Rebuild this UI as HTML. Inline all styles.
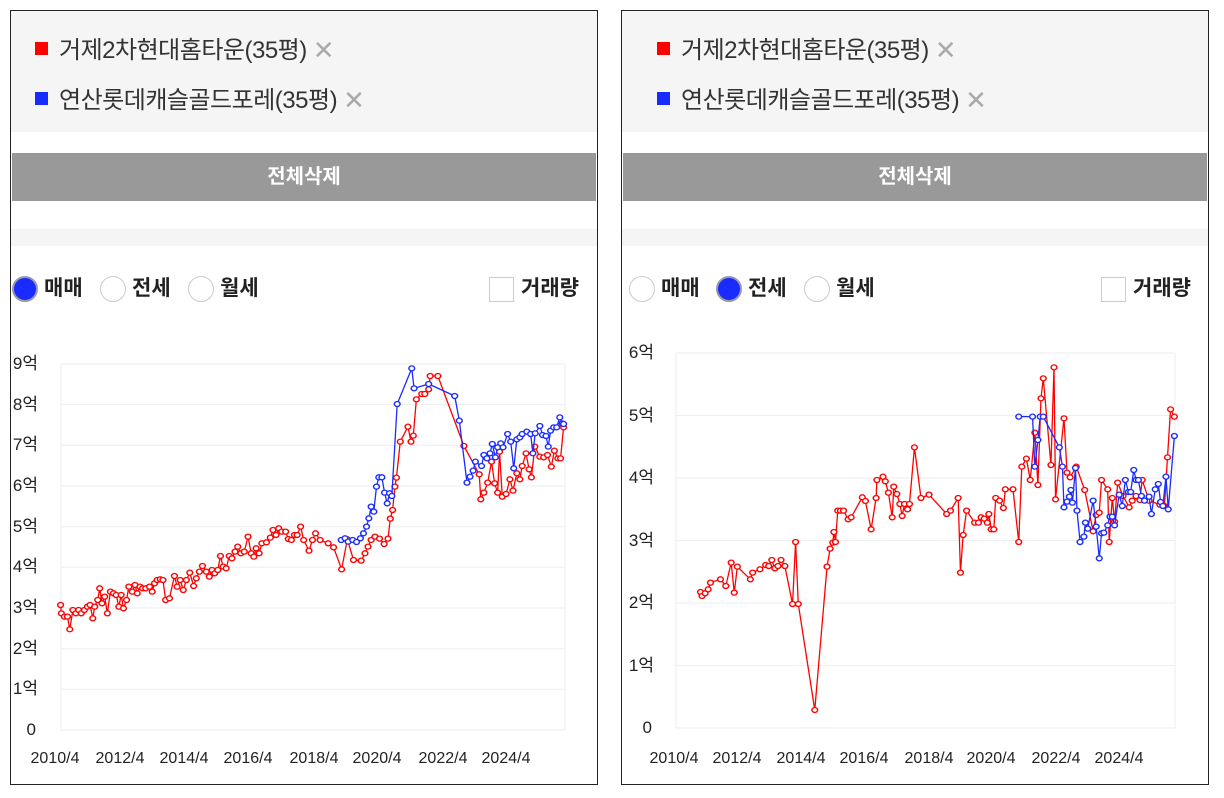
<!DOCTYPE html>
<html><head><meta charset="utf-8"><style>
body{margin:0;width:1224px;height:798px;background:#fff;position:relative;overflow:hidden;font-family:"Liberation Sans","Noto Sans CJK KR",sans-serif;}
.p{position:absolute;top:10px;width:588px;height:775px;border:1.5px solid #222;box-sizing:border-box;overflow:hidden}
.a{position:absolute}
.lg{position:absolute;font-size:24px;color:#333;white-space:nowrap;line-height:26px;letter-spacing:-0.5px}
.sq{display:inline-block;width:13px;height:13px;margin-right:11px;vertical-align:3px}
.x{color:#aaa;font-size:26px;margin-left:6px;vertical-align:-1px}
.btn{position:absolute;left:1px;right:1px;top:142px;height:48px;background:#999;color:#fff;font-weight:bold;font-size:20px;text-align:center;line-height:48px}
.rad{position:absolute;top:265px;width:26px;height:26px;border-radius:50%;border:1.5px solid #ccc;box-sizing:border-box;background:#fff}
.on{border:2px solid #99a;background:#1a2bff}
.t{position:absolute;top:264px;font-size:21px;font-weight:bold;color:#222;line-height:28px}
.cb{position:absolute;top:266px;width:25px;height:25px;border:1.5px solid #ccc;box-sizing:border-box}
</style></head><body>

<div class="p" style="left:10px">
 <div class="a" style="left:0;right:0;top:0;height:121px;background:#f5f5f5"></div>
 <div class="lg" style="left:24px;top:26px"><span class="sq" style="background:#f00"></span>거제2차현대홈타운(35평)<span class="x">✕</span></div>
 <div class="lg" style="left:24px;top:76px"><span class="sq" style="background:#1a2bff"></span>연산롯데캐슬골드포레(35평)<span class="x">✕</span></div>
 <div class="btn">전체삭제</div>
 <div class="a" style="left:0;right:0;top:218px;height:17px;background:#f5f5f5"></div>
 <div class="rad on" style="left:1px"></div><div class="t" style="left:33px">매매</div>
 <div class="rad" style="left:89px"></div><div class="t" style="left:121px">전세</div>
 <div class="rad" style="left:177px"></div><div class="t" style="left:209px">월세</div>
 <div class="cb" style="left:478px"></div><div class="t" style="left:510px">거래량</div>
</div>

<div class="p" style="left:621px">
 <div class="a" style="left:0;right:0;top:0;height:121px;background:#f5f5f5"></div>
 <div class="lg" style="left:35px;top:26px"><span class="sq" style="background:#f00"></span>거제2차현대홈타운(35평)<span class="x">✕</span></div>
 <div class="lg" style="left:35px;top:76px"><span class="sq" style="background:#1a2bff"></span>연산롯데캐슬골드포레(35평)<span class="x">✕</span></div>
 <div class="btn">전체삭제</div>
 <div class="a" style="left:0;right:0;top:218px;height:17px;background:#f5f5f5"></div>
 <div class="rad" style="left:7px"></div><div class="t" style="left:39px">매매</div>
 <div class="rad on" style="left:94px"></div><div class="t" style="left:126px">전세</div>
 <div class="rad" style="left:182px"></div><div class="t" style="left:214px">월세</div>
 <div class="cb" style="left:479px"></div><div class="t" style="left:511px">거래량</div>
</div>

<svg class="a" style="left:0;top:0" width="1224" height="798" font-family="Liberation Sans, Noto Sans CJK KR, sans-serif" font-size="17" fill="#222">
 <defs>
  <marker id="mr" markerUnits="userSpaceOnUse" markerWidth="24" markerHeight="24" refX="12" refY="12" viewBox="0 0 24 24"><circle cx="12" cy="12" r="7.5" fill="#fff" stroke="#f00" stroke-width="3.8"/></marker>
  <marker id="mb" markerUnits="userSpaceOnUse" markerWidth="24" markerHeight="24" refX="12" refY="12" viewBox="0 0 24 24"><circle cx="12" cy="12" r="7.5" fill="#fff" stroke="#1a2bff" stroke-width="3.8"/></marker>
 </defs>
 <g stroke="#eee" stroke-width="1">
  <rect x="61" y="364" width="504" height="366" fill="none"/>
  <line x1="61" x2="565" y1="404.6" y2="404.6"/><line x1="61" x2="565" y1="445.3" y2="445.3"/><line x1="61" x2="565" y1="486" y2="486"/><line x1="61" x2="565" y1="526.7" y2="526.7"/><line x1="61" x2="565" y1="567.3" y2="567.3"/><line x1="61" x2="565" y1="608" y2="608"/><line x1="61" x2="565" y1="648.7" y2="648.7"/><line x1="61" x2="565" y1="689.3" y2="689.3"/>
  <rect x="676" y="353" width="499" height="375" fill="none"/>
  <line x1="676" x2="1175" y1="415.5" y2="415.5"/><line x1="676" x2="1175" y1="478" y2="478"/><line x1="676" x2="1175" y1="540.5" y2="540.5"/><line x1="676" x2="1175" y1="603" y2="603"/><line x1="676" x2="1175" y1="665.5" y2="665.5"/>
 </g>
 <g text-anchor="end">
  <text x="38" y="369">9억</text><text x="38" y="410">8억</text><text x="38" y="450">7억</text><text x="38" y="491">6억</text><text x="38" y="532">5억</text><text x="38" y="572">4억</text><text x="38" y="613">3억</text><text x="38" y="654">2억</text><text x="38" y="694">1억</text><text x="36" y="735">0</text>
  <text x="654" y="358">6억</text><text x="654" y="421">5억</text><text x="654" y="483">4억</text><text x="654" y="546">3억</text><text x="654" y="608">2억</text><text x="654" y="671">1억</text><text x="652" y="733">0</text>
 </g>
 <g text-anchor="middle" font-size="16">
  <text x="55" y="763">2010/4</text><text x="120" y="763">2012/4</text><text x="184" y="763">2014/4</text><text x="248" y="763">2016/4</text><text x="314" y="763">2018/4</text><text x="377" y="763">2020/4</text><text x="443" y="763">2022/4</text><text x="506" y="763">2024/4</text>
  <text x="674" y="763">2010/4</text><text x="737" y="763">2012/4</text><text x="801" y="763">2014/4</text><text x="864" y="763">2016/4</text><text x="929" y="763">2018/4</text><text x="991" y="763">2020/4</text><text x="1056" y="763">2022/4</text><text x="1119" y="763">2024/4</text>
 </g>
 <g transform="translate(0,340) scale(0.3834,0.3333)" fill="none">
  <polyline stroke="#f00" stroke-width="1.3" vector-effect="non-scaling-stroke" marker-start="url(#mr)" marker-mid="url(#mr)" marker-end="url(#mr)" points="158,795 160,820 168,830 176,830 182,868 190,810 198,820 205,810 212,820 220,810 228,800 235,795 242,835 247,800 255,780 260,745 266,790 273,770 280,820 288,755 296,760 303,765 310,800 316,765 322,805 330,780 336,740 345,755 352,735 358,760 365,740 372,745 380,745 390,740 397,755 403,730 410,720 418,718 425,720 432,780 442,775 455,708 462,740 470,720 478,750 486,720 495,698 505,738 512,715 520,695 528,678 538,695 546,710 553,690 560,700 568,690 575,648 582,680 590,685 598,648 605,655 613,635 620,620 628,640 637,635 647,590 655,640 662,650 668,625 676,640 683,610 695,607 705,593 712,570 720,585 727,565 735,575 745,575 752,597 760,600 768,585 775,585 784,560 792,600 806,632 815,600 823,580 835,600 856,610 870,622 891,688 906,598 922,660 942,662 952,640 960,620 968,600 978,590 990,596 1002,612 1012,596 1018,536 1024,510 1030,440 1034,413 1044,305 1064,260 1072,305 1078,287 1086,178 1100,162 1108,162 1118,148 1122,108 1142,108 1210,318 1250,403 1254,478 1262,458 1272,428 1282,365 1290,430 1298,458 1303,335 1310,470 1320,462 1330,418 1338,452 1348,400 1356,418 1362,378 1372,340 1380,388 1386,412 1395,320 1408,350 1418,352 1428,345 1438,380 1446,332 1455,355 1462,355 1470,262"/>
  <polyline stroke="#1a2bff" stroke-width="1.3" vector-effect="non-scaling-stroke" marker-start="url(#mb)" marker-mid="url(#mb)" marker-end="url(#mb)" points="890,600 900,595 908,605 920,600 930,606 940,595 948,580 956,560 962,535 968,500 975,515 982,440 988,412 996,412 1003,458 1010,490 1016,460 1022,468 1036,192 1074,85 1080,145 1118,132 1186,168 1198,242 1218,428 1226,410 1234,392 1240,365 1256,378 1262,345 1270,355 1278,340 1284,312 1292,352 1298,322 1306,310 1312,322 1324,282 1332,305 1340,385 1348,298 1356,292 1362,282 1374,275 1384,282 1390,340 1396,280 1408,258 1415,285 1424,288 1430,320 1436,272 1444,262 1452,262 1460,232 1466,250 1470,252"/>
 </g>
 <g transform="translate(620,340) scale(0.3834,0.3333)" fill="none">
  <polyline stroke="#f00" stroke-width="1.3" vector-effect="non-scaling-stroke" marker-start="url(#mr)" marker-mid="url(#mr)" marker-end="url(#mr)" points="210,756 214,768 222,760 230,748 236,728 262,718 276,738 290,668 298,758 306,680 340,718 346,698 365,688 380,675 388,678 396,660 404,685 412,678 420,660 430,678 450,792 458,606 465,792 508,1110 540,680 548,626 555,608 558,576 562,606 568,512 575,512 583,512 595,538 603,532 632,472 640,483 655,568 668,474 670,420 686,410 692,424 700,458 710,532 714,440 722,462 730,492 736,528 742,492 750,508 755,492 768,322 785,474 806,464 852,522 862,512 882,474 888,698 895,585 904,512 925,548 935,548 942,532 950,536 958,548 962,522 968,568 975,568 980,474 990,482 1000,504 1005,448 1025,448 1040,606 1048,380 1060,356 1070,420 1082,278 1090,435 1098,175 1104,115 1124,375 1132,82 1136,478 1158,235 1166,398 1174,412 1190,380 1212,450 1234,574 1242,525 1250,518 1256,420 1272,448 1276,606 1284,474 1290,545 1298,428 1312,468 1328,502 1336,482 1346,468 1356,480 1362,420 1380,482 1408,494 1420,498 1428,352 1436,208 1446,230"/>
  <polyline stroke="#1a2bff" stroke-width="1.3" vector-effect="non-scaling-stroke" marker-start="url(#mb)" marker-mid="url(#mb)" marker-end="url(#mb)" points="1040,230 1076,230 1082,380 1090,300 1096,230 1104,230 1146,322 1154,380 1158,502 1166,485 1172,470 1176,450 1180,488 1188,384 1192,512 1200,606 1210,590 1214,548 1220,566 1234,482 1242,560 1250,655 1256,580 1262,578 1272,556 1278,530 1284,530 1290,556 1302,464 1310,498 1318,420 1326,456 1332,456 1340,390 1346,420 1352,420 1360,468 1368,482 1380,470 1386,522 1396,448 1404,432 1410,486 1416,498 1424,410 1430,508 1446,288"/>
 </g>
</svg>
</body></html>
